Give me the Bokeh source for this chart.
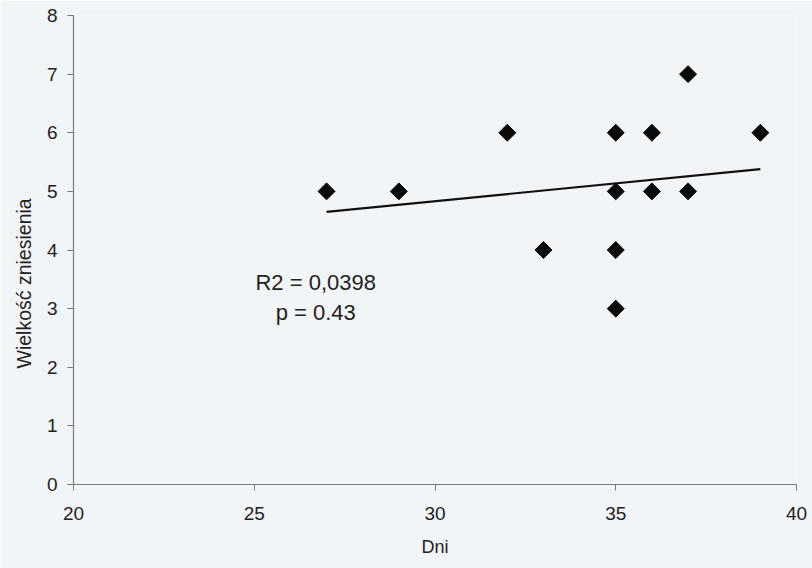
import numpy as np
from bokeh.plotting import figure
from bokeh.models import Range1d, ColumnDataSource, FixedTicker, Title
from bokeh.core.properties import value
from bokeh.embed import file_html
from bokeh.resources import INLINE

# Data
days = [27, 29, 32, 33, 35, 35, 35, 35, 36, 36, 37, 37, 39]
clutch = [5, 5, 6, 4, 6, 5, 4, 3, 6, 5, 7, 5, 6]
trend_x = [27, 39]
trend_y = [4.65, 5.38]
x_ticks = [20, 25, 30, 35, 40]
y_ticks = [0, 1, 2, 3, 4, 5, 6, 7, 8]
stats_lines = ["R2 = 0,0398", "p = 0.43"]
stats_x = [26.7, 26.7]
stats_y = [3.44, 2.94]
x_title = "Dni"
y_title = "Wielkość zniesienia"

FONT = "Liberation Sans"
BG = "#f2f5f7"
TXT = "#222222"

p = figure(width=812, height=568, output_backend="svg", toolbar_location=None,
           x_range=Range1d(20, 40), y_range=Range1d(0, 8),
           min_border_left=73, min_border_right=16, min_border_top=15, min_border_bottom=84)
p.background_fill_color = BG
p.border_fill_color = BG
p.outline_line_color = None
p.xgrid.grid_line_color = None
p.ygrid.grid_line_color = None

for ax, ticks in ((p.xaxis[0], x_ticks), (p.yaxis[0], y_ticks)):
    ax.ticker = FixedTicker(ticks=ticks)
    ax.axis_line_color = "#7a7a7a"
    ax.axis_line_width = 1.2
    ax.major_tick_line_color = "#7a7a7a"
    ax.major_tick_in = 0
    ax.major_tick_out = 6
    ax.minor_tick_line_color = None
    ax.major_label_text_font = FONT
    ax.major_label_text_font_size = "19px"
    ax.major_label_text_color = TXT
    ax.axis_label_text_font = FONT
    ax.axis_label_text_font_size = "18px"
    ax.axis_label_text_font_style = "normal"
    ax.axis_label_text_color = TXT

p.xaxis.axis_label = x_title
p.xaxis.major_label_standoff = 16
p.xaxis.axis_label_standoff = 14
p.yaxis.major_label_standoff = 10

# y title placed lower than the frame centre, as in the reference
p.add_layout(Title(text=y_title, align="left", offset=116, standoff=17,
                   text_font=FONT, text_font_size="19.5px", text_font_style="normal",
                   text_color=TXT), "left")

p.line(trend_x, trend_y, line_color="#111111", line_width=2.2)

src = ColumnDataSource(dict(x=days, y=clutch))
p.scatter("x", "y", source=src, marker="square", angle=np.pi / 4, size=12,
          fill_color="#0a0a0a", line_color="#0a0a0a")

p.text(x=stats_x, y=stats_y, text=stats_lines, text_font=value(FONT),
       text_font_size="22px", text_color=TXT,
       text_align="center", text_baseline="middle")

open("out.html", "w").write(file_html(p, INLINE))
